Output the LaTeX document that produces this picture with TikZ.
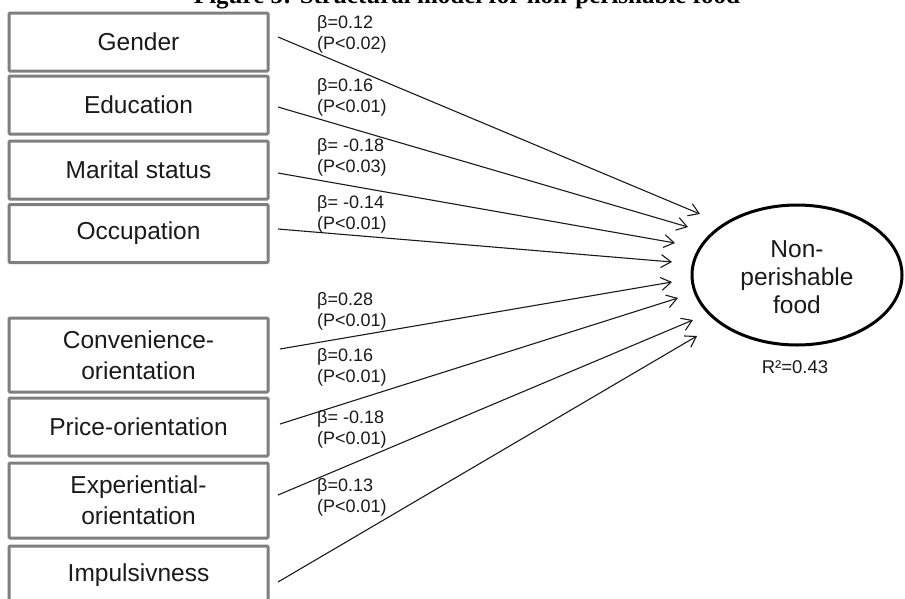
\documentclass[tikz,border=0pt]{standalone}
\usepackage{fontspec}
\setmainfont{Liberation Sans}
\newfontfamily\titlefont{Liberation Serif}
\usetikzlibrary{arrows.meta,shapes.geometric}
\definecolor{boxgray}{HTML}{7F7F7F}
\definecolor{ink}{HTML}{1A1A1A}
\begin{document}
\begin{tikzpicture}[x=1pt,y=-1pt,
  varbox/.style={draw=boxgray, line width=3pt, minimum width=259pt, minimum height=58pt,
    align=center, inner sep=0pt, rounded corners=1pt, text=ink, font=\fontsize{24.5}{31}\selectfont},
  coef/.style={anchor=west, align=left, inner sep=0pt, text=ink, font=\fontsize{18}{21}\selectfont},
  effect/.style={draw=ink, line width=1.1pt, -{Straight Barb[length=10pt,width=13pt,line width=1.1pt]}}]
\useasboundingbox (0,0) rectangle (905,598);
\clip (0,0) rectangle (905,598);
% title (cut off at top in reference)
\node[anchor=base, inner sep=0pt, font=\titlefont\bfseries\fontsize{25}{28}\selectfont] (title) at (467,3.5) {Figure 5: Structural model for non-perishable food};
% variable boxes
\node[varbox] (gender) at (138.5,42) {Gender};
\node[varbox] (edu) at (138.5,105) {Education};
\node[varbox] (marital) at (138.5,170) {Marital status};
\node[varbox] (occ) at (138.5,233.5) {Occupation};
\node[varbox, minimum height=74pt] (conv) at (138.5,355) {Convenience-\\orientation};
\node[varbox] (price) at (138.5,427) {Price-orientation};
\node[varbox, minimum height=75pt] (exper) at (138.5,500.5) {Experiential-\\orientation};
\node[varbox] (impuls) at (138.5,575) {Impulsivness};
% outcome
\node[draw=black, line width=3pt, ellipse, minimum width=210pt, minimum height=140pt, inner sep=0pt] (food) at (797,275) {};
\node[align=center, inner sep=0pt, text=ink, font=\fontsize{24.5}{28}\selectfont] (foodtxt) at (797,277) {Non-\\perishable\\food};
\node[inner sep=0pt, text=ink, font=\fontsize{18.5}{20}\selectfont] (rsq) at (795,367) {R²=0.43};
% path start and end points
\coordinate (s1) at (278,37);  \coordinate (e1) at (700,214);
\coordinate (s2) at (278,107); \coordinate (e2) at (688,227);
\coordinate (s3) at (278,173); \coordinate (e3) at (675,243);
\coordinate (s4) at (278,229); \coordinate (e4) at (672,262);
\coordinate (s5) at (280,349); \coordinate (e5) at (672,282);
\coordinate (s6) at (280,424); \coordinate (e6) at (678,298);
\coordinate (s7) at (278,495); \coordinate (e7) at (693,320);
\coordinate (s8) at (278,582); \coordinate (e8) at (697,336);
\foreach \i in {1,...,8} {\draw[effect] (s\i) -- (e\i);}
% coefficients
\node[coef] (c1) at (317,34) {β=0.12\\(P<0.02)};
\node[coef] (c2) at (317,97.5) {β=0.16\\(P<0.01)};
\node[coef] (c3) at (317,157.5) {β= -0.18\\(P<0.03)};
\node[coef] (c4) at (317,214.5) {β= -0.14\\(P<0.01)};
\node[coef] (c5) at (317,311.5) {β=0.28\\(P<0.01)};
\node[coef] (c6) at (317,367) {β=0.16\\(P<0.01)};
\node[coef] (c7) at (317,429) {β= -0.18\\(P<0.01)};
\node[coef] (c8) at (317,497.5) {β=0.13\\(P<0.01)};
\end{tikzpicture}
\end{document}
